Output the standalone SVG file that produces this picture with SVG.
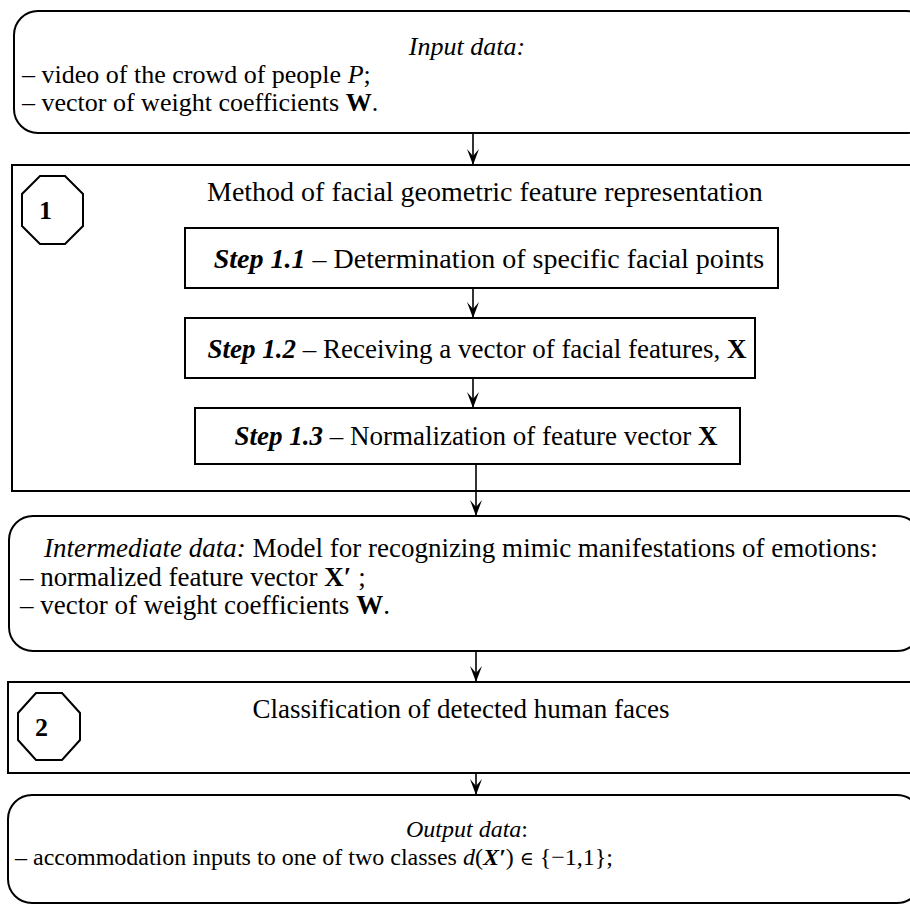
<svg xmlns="http://www.w3.org/2000/svg" width="910" height="906" viewBox="0 0 910 906">
<style>
  .box{fill:#fff;stroke:#000;stroke-width:2}
  .t{font-family:"Liberation Serif","Times New Roman",serif;font-size:27px;fill:#000}
  .s26{font-size:26px}
  .s28{font-size:28px}
  .s24{font-size:24px}
  .i{font-style:italic}
  .b{font-weight:bold}
  .bi{font-weight:bold;font-style:italic}
  .num{font-family:"Liberation Serif","Times New Roman",serif;font-size:26px;font-weight:bold}
  .conn{stroke:#000;stroke-width:1.6;fill:none}
</style>
<defs>
  <marker id="ah" markerWidth="16" markerHeight="12" viewBox="0 0 16 12" refX="16" refY="6" orient="auto" markerUnits="userSpaceOnUse">
    <path d="M0,0 L16,6 L0,12 L7,6 Z" fill="#000"/>
  </marker>
</defs>

<g id="input">
  <rect class="box" x="14" y="11" width="916" height="122" rx="24"/>
  <text class="t s26 i" x="467" y="55" text-anchor="middle">Input data:</text>
  <text class="t s26" x="22" y="83">– video of the crowd of people <tspan class="i">P</tspan>;</text>
  <text class="t s26" x="22" y="111">– vector of weight coefficients <tspan class="b">W</tspan>.</text>
</g>

<g id="method">
  <rect class="box" x="12" y="165" width="930" height="326"/>
  <polygon class="box" points="40,176 65,176 83,194 83,226 65,244 40,244 22,226 22,194"/>
  <text class="num" x="39" y="219">1</text>
  <text class="t s28" x="207" y="201">Method of facial geometric feature representation</text>
</g>

<g id="step11">
  <rect class="box" x="185" y="228" width="593" height="60"/>
  <text class="t s28" x="489" y="268" text-anchor="middle"><tspan class="bi">Step 1.1</tspan> – Determination of specific facial points</text>
</g>

<g id="step12">
  <rect class="box" x="185" y="318" width="570" height="60"/>
  <text class="t" x="477" y="358" text-anchor="middle" font-size="26.5"><tspan class="bi">Step 1.2</tspan> – Receiving a vector of facial features, <tspan class="b">X</tspan></text>
</g>

<g id="step13">
  <rect class="box" x="195" y="408" width="545" height="56"/>
  <text class="t" x="476" y="445" text-anchor="middle"><tspan class="bi">Step 1.3</tspan> – Normalization of feature vector <tspan class="b">X</tspan></text>
</g>

<g id="intermediate">
  <rect class="box" x="9" y="516" width="912" height="135" rx="24"/>
  <text class="t" x="44" y="557" font-size="27.5"><tspan class="i">Intermediate data:</tspan> Model for recognizing mimic manifestations of emotions:</text>
  <text class="t" x="20" y="586">– normalized feature vector  <tspan class="b">X′</tspan> ;</text>
  <text class="t" x="20" y="614">– vector of weight coefficients <tspan class="b">W</tspan>.</text>
</g>

<g id="classification">
  <rect class="box" x="8" y="682" width="935" height="91"/>
  <polygon class="box" points="36,693 62,693 80,713 80,740 62,760 36,760 18,740 18,713"/>
  <text class="num" x="35" y="736">2</text>
  <text class="t" x="461" y="718" text-anchor="middle">Classification of detected human faces</text>
</g>

<g id="output">
  <rect class="box" x="8" y="795" width="913" height="108" rx="24"/>
  <text class="t s24 i" x="467" y="837" text-anchor="middle">Output data<tspan font-style="normal">:</tspan></text>
  <text class="t s24" x="15" y="865">– accommodation inputs to one of two classes <tspan class="i">d</tspan>(<tspan class="bi">X′</tspan>) <tspan font-family="DejaVu Serif" font-size="19">∈</tspan> {−1,1};</text>
</g>

<g id="connectors">
  <line class="conn" x1="473" y1="133" x2="473" y2="165" marker-end="url(#ah)"/>
  <line class="conn" x1="473" y1="288" x2="473" y2="318" marker-end="url(#ah)"/>
  <line class="conn" x1="473" y1="378" x2="473" y2="408" marker-end="url(#ah)"/>
  <line class="conn" x1="476" y1="464" x2="476" y2="516" marker-end="url(#ah)"/>
  <line class="conn" x1="476" y1="651" x2="476" y2="682" marker-end="url(#ah)"/>
  <line class="conn" x1="476" y1="773" x2="476" y2="795" marker-end="url(#ah)"/>
</g>
</svg>
